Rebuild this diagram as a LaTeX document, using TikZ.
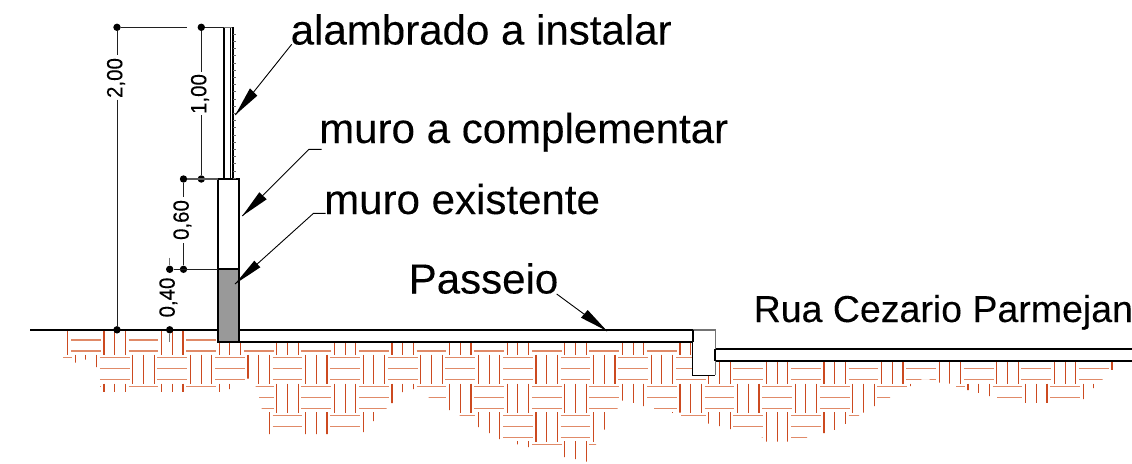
\documentclass[tikz,border=0pt]{standalone}
\usepackage{fontspec}
\setmainfont{Liberation Sans}[FakeBold=0.12]
\newfontfamily\dimfont{Liberation Sans}[FakeBold=0.12,FakeStretch=0.93]
\definecolor{hbrick}{HTML}{E08A68}
\definecolor{vbrick}{HTML}{CC4A20}
\definecolor{dimgray}{HTML}{202020}
\tikzset{
  heavy/.style={line width=2.3pt,black},
  medium/.style={line width=1.6pt,black},
  thin dim/.style={line width=1pt,dimgray},
  leader/.style={line width=0.9pt,black},
  tip head/.style={fill=black,draw=none},
  dimdot/.style={circle,fill=black,inner sep=0pt,minimum size=7.4pt},
  label text/.style={inner sep=0pt,anchor=base west,font=\fontsize{42.05}{42}\selectfont},
  dim text/.style={inner sep=0pt,rotate=90,font=\dimfont\fontsize{22}{22}\selectfont},
  hline/.style={line width=1.15pt,hbrick},
  vline/.style={line width=1.1pt,vbrick}
}
\begin{document}
\begin{tikzpicture}[x=1pt,y=-1pt]
\useasboundingbox (0,0) rectangle (1132,463);
% ground hatch
\begin{scope}
\clip (63,331)--(63,359.6)--(73,359.6)--(73,362.5)--(77,362.5)--(77,359.6)--(94,359.6)--(94,367.2)--(98.5,367.2)--(98.5,381)--(100,381)--(100,391.8)--(222,391.8)--(222,389.2)--(232,389.2)--(232,381)--(245.3,381)--(245.3,378.5)--(250,378.5)--(250,383.9)--(255.5,383.9)--(255.5,388)--(259,388)--(259,399)--(261.7,399)--(261.7,410)--(268.5,410)--(268.5,434)--(328,434)--(328.5,428)--(361,428)--(361,432)--(365,432)--(365,421)--(376,421)--(376,410)--(386.5,410)--(386.5,403)--(393,403)--(393,392)--(405,392)--(405,389.2)--(428.5,389.2)--(428.5,399)--(448,399)--(448,410.2)--(451.5,410.2)--(451.5,412)--(459.5,412)--(459.5,417.2)--(476.5,417.2)--(476.5,427)--(480,427)--(480,433)--(490.5,433)--(490.5,439)--(516.5,439)--(516.5,444.3)--(527,444.3)--(527,447)--(530,447)--(530,446)--(563,446)--(563,457)--(566.5,457)--(566.5,459.2)--(577,459.2)--(577,461.5)--(588,461.5)--(588,446)--(596,446)--(596,441.5)--(603,441.5)--(603,429.5)--(606,429.5)--(606,410)--(617.5,410)--(617.5,400.5)--(624,400.5)--(624,402.9)--(635,402.9)--(635,406.2)--(646,406.2)--(646,399)--(654,399)--(654,410)--(671.5,410)--(671.5,412.9)--(674,412.9)--(674,412.5)--(681,412.5)--(681,417.2)--(707,417.2)--(707,423.5)--(710,423.5)--(710,426.2)--(721,426.2)--(721,429.2)--(733,429.2)--(733,428)--(761.5,428)--(761.5,437.5)--(764,437.5)--(764,441.5)--(790,441.5)--(790,439)--(807,439)--(807,428)--(822,428)--(822,433.2)--(825.5,433.2)--(825.5,429.9)--(836.5,429.9)--(836.5,423.9)--(847.5,423.9)--(847.5,417.2)--(859,417.2)--(859,412.5)--(866,412.5)--(866,406.2)--(876,406.2)--(876,399)--(890,399)--(890,388.2)--(908,388.2)--(908,386.2)--(912,386.2)--(912,381.2)--(921.3,381.2)--(921.3,379)--(929.5,379)--(929.5,381.2)--(937,381.2)--(937,382.5)--(941,382.5)--(941,383.5)--(956,383.5)--(956,388.2)--(966,388.2)--(966,390.2)--(969.5,390.2)--(969.5,392.9)--(980.5,392.9)--(980.5,396.2)--(992,396.2)--(992,388.2)--(997,388.2)--(997,399)--(1024,399)--(1024,402.9)--(1049,402.9)--(1049,399)--(1085,399)--(1085,388.2)--(1096,388.2)--(1096,381.2)--(1102.5,381.2)--(1102.5,369.8)--(1114,369.8)--(1114,361)--(715,361)--(715,331)--cycle;
\foreach \r in {0,...,4}{
  \pgfmathsetmacro{\yo}{329+28.87*\r}
  \pgfmathsetmacro{\shift}{mod(\r,2)==0 ? 0 : 28.8}
  \foreach \k in {-1,...,18}{
    \pgfmathsetmacro{\xh}{71+\shift+57.6*\k}
    \pgfmathsetmacro{\xv}{104+\shift+57.6*\k}
    \foreach \i in {0,1,2}{
      \draw[hline] (\xh,\yo+11*\i) -- ++(29.7,0);
      \draw[vline] (\xv+10.7*\i,\yo-3.2) -- ++(0,29.2);
    }
  }
}
\end{scope}
% slabs
\draw[heavy] (30,329.8) -- (217.7,329.8);
\fill[white] (238.7,330) rectangle (692.7,342);
\draw[heavy] (238.7,330) -- (692.7,330) -- (692.7,342) -- (238.7,342);
\fill[white] (715.3,349.3) rectangle (1132,361);
\draw[heavy] (1132,349.3) -- (715.3,349.3) -- (715.3,361) -- (1132,361);
% curb
\fill[white] (692.7,330) rectangle (715.3,375.3);
\draw[line width=1.2pt,black!55] (692.7,330) -- (715.3,330) -- (715.3,349);
\draw[line width=1.2pt,black!55] (715.3,361) -- (715.3,375.3);
\draw[line width=1.2pt,black] (692.7,342) -- (692.7,375.3) -- (715.3,375.3);
\draw[heavy] (692.7,330) -- (692.7,342);
\draw[heavy] (715.3,349.3) -- (715.3,361);
% wall
\fill[white] (217.7,179) rectangle (238.7,269.3);
\fill[black!40] (217.7,269.3) rectangle (238.7,342);
\draw[heavy] (217.7,179) rectangle (238.7,342);
\draw[heavy] (217.7,269.3) -- (238.7,269.3);
% fence
\draw[medium] (223.7,178.5) -- (223.7,27) (230.5,178.5) -- (230.5,27);
\draw[line width=0.9pt,black!55] (215,27) -- (233,27);
\draw[line width=1.2pt,black] (233,27) -- (233,178.5);
\foreach \t in {0,...,20}{
  \draw[line width=0.6pt,black!60] (233,34+7.2*\t) -- (235.6,34+7.2*\t);
}
% dimension dots
\node[dimdot] (d1) at (117,27.3) {};
\node[dimdot] (d2) at (201.3,27.3) {};
\node[dimdot] (d3) at (117,329.8) {};
\node[dimdot] (d4) at (201.3,179) {};
\node[dimdot] (d5) at (183.5,179) {};
\node[dimdot] (d6) at (183.5,269.3) {};
\node[dimdot] (d7) at (169.7,269.3) {};
\node[dimdot] (d8) at (169.7,329.8) {};
\coordinate (topgap) at (186.7,27.3);
\coordinate (fencetop) at (223.7,27.3);
\coordinate (walltop) at (217.7,179);
\coordinate (wallmid) at (217.7,269.3);
\coordinate (t40up) at (169.7,257.5);
\coordinate (t40dn) at (169.7,341.7);
% dimension texts
\node[dim text] (n200) at (116,78) {2,00};
\node[dim text] (n100) at (200,94) {1,00};
\node[dim text] (n060) at (182.4,220) {0,60};
\node[dim text] (n040) at (168.4,297.5) {0,40};
% dimension lines
\draw[thin dim] (d1) -- (topgap);
\draw[thin dim] (d2) -- (fencetop);
\draw[thin dim] (d1) -- (117,55) (117,99.5) -- (d3);
\draw[thin dim] (d2) -- (201.3,71.5) (201.3,115) -- (d4);
\draw[line width=1.3pt,black!65] (d5) -- (walltop);
\draw[thin dim] (d5) -- (183.5,196.5) (183.5,243) -- (d6);
\draw[thin dim] (d7) -- (wallmid);
\draw[thin dim,black!55] (t40up) -- (d7);
\draw[line width=1.2pt,black!55] (d8) -- (t40dn);
% labels
\node[label text] (l1) at (290.5,44.5) {alambrado a instalar};
\node[label text] (l2) at (319,143) {muro a complementar};
\node[label text] (l3) at (324,214) {muro existente};
\node[label text] (l4) at (408.5,293.5) {Passeio};
\node[inner sep=0pt,anchor=base west,font=\fontsize{37.5}{37.5}\selectfont] (l5) at (753.5,322) {Rua Cezario Parmejan};
% leaders
\coordinate (a1) at (291.7,44.3);
\coordinate (a2) at (235.3,115);
\draw[leader] (a1) -- (a2);
\fill[tip head] (a2) -- (250,88.3) -- (257.3,95.7) -- cycle;
\coordinate (b0) at (321.7,149.3);
\coordinate (b1) at (309,149.3);
\coordinate (b2) at (242.3,216);
\draw[leader] (b0) -- (b1) -- (b2);
\fill[tip head] (b2) -- (259.3,192.3) -- (266.7,199.3) -- cycle;
\coordinate (c0) at (325.7,213.3);
\coordinate (c1) at (313.5,213.3);
\coordinate (c2) at (235,284);
\draw[leader] (c0) -- (c1) -- (c2);
\fill[tip head] (c2) -- (254.3,260.7) -- (260.3,267.3) -- cycle;
\coordinate (e1) at (556.7,294);
\coordinate (e2) at (607,331);
\draw[leader] (e1) -- (e2);
\fill[tip head] (e2) -- (587.7,310) -- (581,317.7) -- cycle;
\end{tikzpicture}
\end{document}
